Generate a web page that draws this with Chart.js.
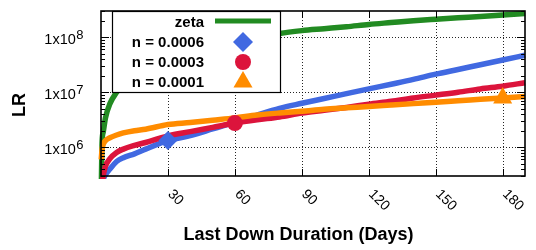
<!DOCTYPE html>
<html><head><meta charset="utf-8">
<script src="https://cdn.jsdelivr.net/npm/chart.js@4.4.1/dist/chart.umd.min.js"></script>
<style>html,body{margin:0;padding:0;background:#fff;overflow:hidden}#wrap{width:536px;height:250px;position:relative}</style>
</head><body><div id="wrap"><canvas id="c"></canvas></div>
<script>
// ---- data ----
const days = [0.1,0.5,1,2,4,7,10,15,20,30,40,50,60,70,80,90,100,110,120,130,140,150,160,170,180,190];
const zeta = [1.5e5,1.27e6,1.89e6,3.42e6,6.21e6,1.0e7,1.42e7,2.1e7,2.8e7,4.2e7,5.6e7,7.0e7,8.3e7,9.6e7,1.17e8,1.32e8,1.43e8,1.55e8,1.71e8,1.85e8,2.0e8,2.13e8,2.26e8,2.39e8,2.54e8,2.7e8];
const n0006 = [1.5e5,2.0e5,2.59e5,3.16e5,4.01e5,5.51e5,6.46e5,7.57e5,9.25e5,1.32e6,1.63e6,2.15e6,2.85e6,3.85e6,5.1e6,6.3e6,7.7e6,9.42e6,1.15e7,1.4e7,1.71e7,2.13e7,2.59e7,3.16e7,3.85e7,4.7e7];
const n0003 = [1.5e5,2.13e5,3.04e5,4.52e5,6.21e5,8.04e5,9.25e5,1.08e6,1.22e6,1.61e6,1.92e6,2.3e6,2.75e6,3.16e6,3.56e6,4.18e6,4.7e6,5.3e6,6.08e6,6.86e6,7.89e6,8.87e6,1.0e7,1.15e7,1.29e7,1.49e7];
const n0001 = [6.0e5,9.25e5,1.13e6,1.32e6,1.49e6,1.67e6,1.82e6,2.0e6,2.13e6,2.59e6,2.81e6,3.1e6,3.42e6,3.85e6,4.2e6,4.52e6,4.9e6,5.2e6,5.51e6,5.85e6,6.21e6,6.59e6,7.0e6,7.43e6,7.89e6,8.36e6];
const seriesLabels = ['zeta','n = 0.0006','n = 0.0003','n = 0.0001'];
const markerDays = [null, 30, 60, 180];
const xTickValues = [30,60,90,120,150,180];
const xTickLabels = ['30','60','90','120','150','180'];
const yTickValues = [1e6,1e7,1e8];
const yTickBase = ['1x10','1x10','1x10'];
const yTickExp = ['6','7','8'];
const xTitle = 'Last Down Duration (Days)';
const yTitle = 'LR';

// ---- styles ----
const colors = ['#228B22','#4169E1','#DC143C','#FF8C00'];
const markerStyles = [null,'rectRot','circle','triangle'];
const markerRadii = [0,9.5,8,11];
const legendRadii = [0,10,8,11];
const FONT = '"Liberation Sans", Arial, sans-serif';

const allSeries = [zeta,n0006,n0003,n0001];
const datasets = [];
allSeries.forEach((s,i)=>{
  datasets.push({
    label: seriesLabels[i],
    data: days.map((d,k)=>({x:d,y:s[k]})),
    borderColor: colors[i], backgroundColor: colors[i],
    borderWidth: 5.5, pointRadius: 0, cubicInterpolationMode:'monotone',
    order: 4 - i + 1, clip: 3
  });
});
allSeries.forEach((s,i)=>{
  if(markerDays[i]===null) return;
  const k = days.indexOf(markerDays[i]);
  datasets.push({
    label: seriesLabels[i]+' marker',
    data: [{x:days[k], y:s[k]}],
    showLine:false, pointStyle: markerStyles[i], pointRadius: markerRadii[i],
    pointBackgroundColor: colors[i], pointBorderColor: colors[i], pointBorderWidth: 0,
    order: 0
  });
});

function line(ctx,x1,y1,x2,y2){ctx.beginPath();ctx.moveTo(x1,y1);ctx.lineTo(x2,y2);ctx.stroke();}

const gridPlugin = {
  id:'gridPlugin',
  beforeDatasetsDraw(chart){
    const {ctx, chartArea:a, scales:{x,y}} = chart;
    ctx.save();
    ctx.strokeStyle='rgba(0,0,0,0.85)'; ctx.lineWidth=1; ctx.setLineDash([1,2]);
    xTickValues.forEach(v=>{const p=Math.round(x.getPixelForValue(v))+0.5; line(ctx,p,a.top,p,a.bottom);});
    yTickValues.forEach(v=>{const p=Math.round(y.getPixelForValue(v))+0.5; line(ctx,a.left,p,a.right,p);});
    ctx.restore();
  }
};

function drawMarker(ctx,style,cx,cy,r){
  ctx.beginPath();
  if(style==='rectRot'){ctx.moveTo(cx-r,cy);ctx.lineTo(cx,cy-r);ctx.lineTo(cx+r,cy);ctx.lineTo(cx,cy+r);ctx.closePath();}
  else if(style==='circle'){ctx.arc(cx,cy,r,0,Math.PI*2);}
  else if(style==='triangle'){const h=r*Math.sin(Math.PI/3);ctx.moveTo(cx,cy-r);ctx.lineTo(cx+h,cy+r/2);ctx.lineTo(cx-h,cy+r/2);ctx.closePath();}
  ctx.fill();
}

const decoPlugin = {
  id:'decoPlugin',
  afterDraw(chart){
    const {ctx, chartArea:a, scales:{x,y}} = chart;
    ctx.save();
    // frame
    ctx.setLineDash([]);
    ctx.strokeStyle='#000'; ctx.lineWidth=1.6;
    ctx.strokeRect(a.left, a.top, a.right-a.left, a.bottom-a.top);
    ctx.lineWidth=1;
    // x tick marks (bottom & top, inward)
    xTickValues.forEach(v=>{const p=Math.round(x.getPixelForValue(v))+0.5; line(ctx,p,a.bottom,p,a.bottom-7); line(ctx,p,a.top,p,a.top+7);});
    // y tick marks, major and minor, both sides
    for(let e=5;e<=8;e++){for(let m=1;m<=9;m++){const v=m*Math.pow(10,e); if(v<y.min||v>y.max) continue;
      const p=Math.round(y.getPixelForValue(v))+0.5; const len=(m===1)?8:4;
      line(ctx,a.left,p,a.left+len,p); line(ctx,a.right,p,a.right-len,p);}}
    // y tick labels with superscripts
    ctx.fillStyle='#000';
    yTickValues.forEach((v,i)=>{
      const p=y.getPixelForValue(v);
      ctx.font='14.5px '+FONT; const wb=ctx.measureText(yTickBase[i]).width;
      ctx.font='13px '+FONT; const we=ctx.measureText(yTickExp[i]).width;
      const right=a.left-18; const left=right-wb-we;
      ctx.textAlign='left'; ctx.textBaseline='alphabetic';
      ctx.font='14.5px '+FONT; ctx.fillText(yTickBase[i], left, p+7);
      ctx.font='13px '+FONT; ctx.fillText(yTickExp[i], left+wb+0.5, p+1.5);
    });
    // x tick labels rotated clockwise
    ctx.font='14px '+FONT; ctx.textAlign='left'; ctx.textBaseline='middle';
    xTickValues.forEach((v,i)=>{
      const p=x.getPixelForValue(v);
      ctx.save(); ctx.translate(p+2, a.bottom+16); ctx.rotate(Math.PI/4);
      ctx.fillText(xTickLabels[i],0,0); ctx.restore();
    });
    // axis titles
    ctx.font='bold 18px '+FONT; ctx.textAlign='center'; ctx.textBaseline='middle';
    ctx.fillText(xTitle, 298.5, 235);
    ctx.save(); ctx.translate(20,105); ctx.rotate(-Math.PI/2); ctx.fillText(yTitle,0,0); ctx.restore();
    // legend box
    const L={l:112,t:11,r:280,b:92};
    ctx.fillStyle='#fff'; ctx.fillRect(L.l,L.t,L.r-L.l,L.b-L.t);
    ctx.strokeStyle='#000'; ctx.lineWidth=1.2; ctx.strokeRect(L.l+0.5,L.t+0.5,L.r-L.l,L.b-L.t);
    const rowY=[22,42,62,82];
    seriesLabels.forEach((lab,i)=>{
      ctx.fillStyle='#000'; ctx.font='bold 15px '+FONT; ctx.textAlign='right'; ctx.textBaseline='middle';
      ctx.fillText(lab, 204, rowY[i]+1);
      ctx.fillStyle=colors[i]; ctx.strokeStyle=colors[i];
      if(i===0){ctx.lineWidth=5; line(ctx,215,rowY[i]-1,271,rowY[i]-1);}
      else drawMarker(ctx, markerStyles[i], 243, rowY[i], legendRadii[i]);
    });
    ctx.restore();
  }
};

new Chart(document.getElementById('c'), {
  type:'line',
  data:{datasets},
  options:{
    responsive:true, maintainAspectRatio:false, animation:false,
    devicePixelRatio:1,
    layout:{padding:{left:0,right:4,top:3,bottom:0}},
    plugins:{legend:{display:false}, tooltip:{enabled:false}},
    scales:{
      x:{type:'linear', min:0, max:190,
         grid:{display:false}, border:{display:false},
         ticks:{display:false},
         afterBuildTicks(s){s.ticks=xTickValues.map(v=>({value:v}));},
         afterFit(s){s.height=74;}},
      y:{type:'logarithmic', min:3e5, max:3e8,
         grid:{display:false}, border:{display:false},
         ticks:{display:false},
         afterBuildTicks(s){s.ticks=yTickValues.map(v=>({value:v}));},
         afterFit(s){s.width=101;}}
    }
  },
  plugins:[gridPlugin, decoPlugin]
});
</script></body></html>
